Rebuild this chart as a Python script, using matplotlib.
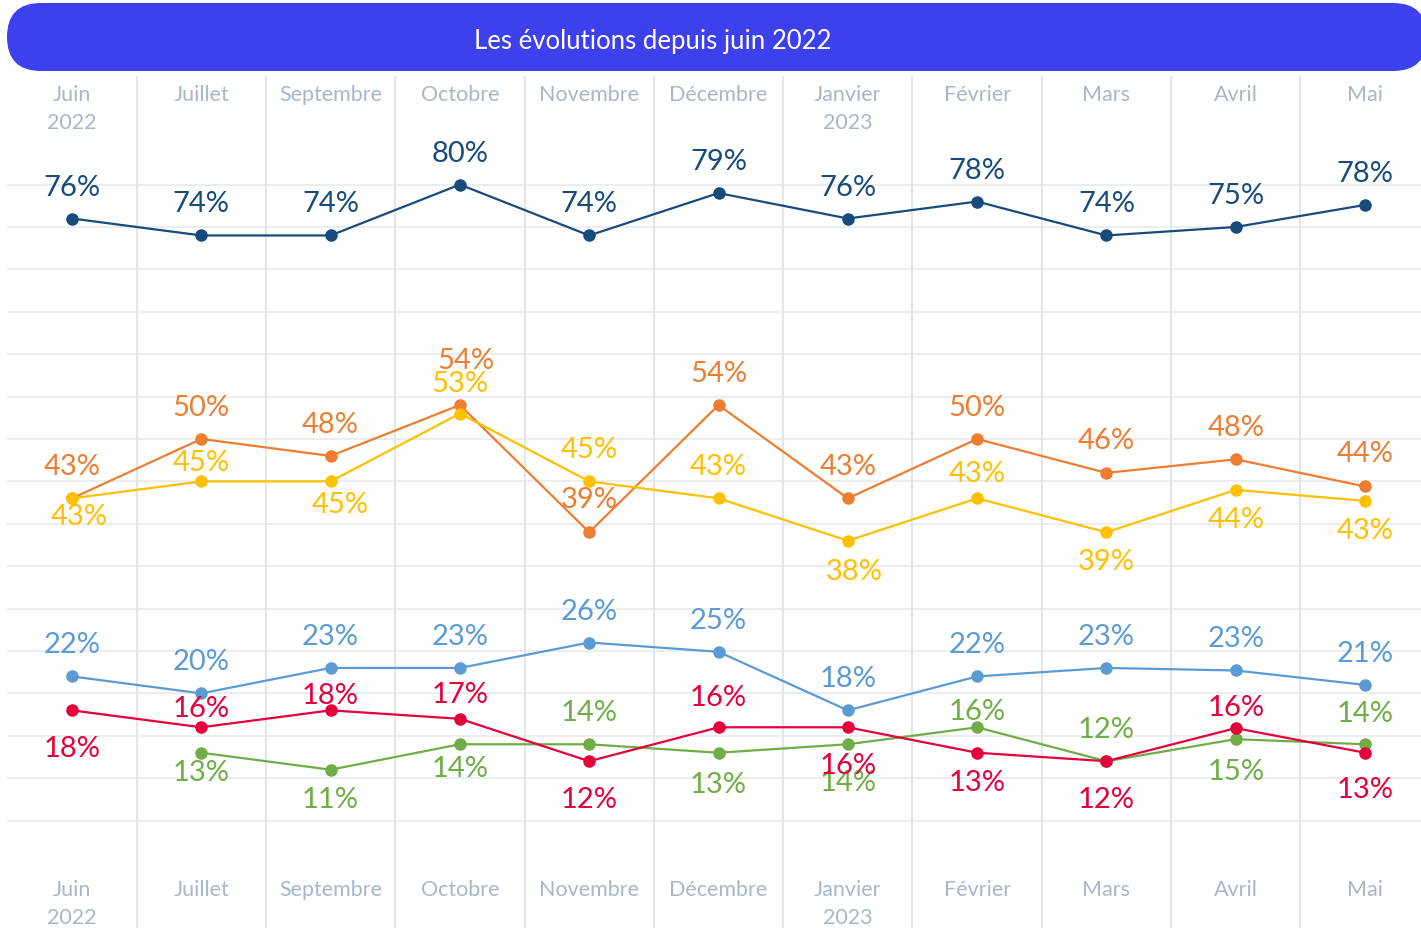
import numpy as np
import matplotlib.pyplot as plt
from matplotlib.patches import FancyBboxPatch
from matplotlib.transforms import blended_transform_factory, IdentityTransform

# ---------------------------------------------------------------
# Data
# ---------------------------------------------------------------
titre = "Les évolutions depuis juin 2022"
mois = ["Juin", "Juillet", "Septembre", "Octobre", "Novembre", "Décembre",
        "Janvier", "Février", "Mars", "Avril", "Mai"]
annees = ["2022", "", "", "", "", "", "2023", "", "", "", ""]

bleu_fonce = [76, 74, 74, 80, 74, 79, 76, 78, 74, 75, 77.6]
orange = [43, 50, 48, 54, 39, 54, 43, 50, 46, 47.6, 44.4]
jaune = [43, 45, 45, 53, 45, 43, 38, 43, 39, 44, 42.7]
bleu_clair = [22, 20, 23, 23, 26, 24.9, 18, 22, 23, 22.7, 21]
rouge = [18, 16, 18, 17, 12, 16, 16, 13, 12, 15.9, 13]
vert = [np.nan, 13, 11, 14, 14, 13, 14, 16, 12, 14.6, 14]

# label placement (pixels, label centre relative to the point, + = down)
off_bleu_fonce = [-33] * 11
off_orange = [-33, -33, -33, -46, -34, -33, -33, -33, -34, -33, -34]
off_jaune = [17, -20, 22, -32, -33, -33, 29, -26, 28, 28, 28]
off_bleu_clair = [-33] * 11
off_rouge = [37, -20, -16, -26, 37, -31, 37, 28, 37, -22, 35]
off_vert = [0, 18, 28, 23, -33, 30, 37, -17, -33, 31, -32]
dx_jaune = [7, 0, 10, 0, 0, 0, 6, 0, 0, 0, 0]
dx_orange = [0, 0, 0, 6, 0, 0, 0, 0, 0, 0, 0]

series = [
    (bleu_fonce, "#174B7B", off_bleu_fonce, None),
    (orange, "#ED7D31", off_orange, dx_orange),
    (jaune, "#FFC000", off_jaune, dx_jaune),
    (bleu_clair, "#5B9BD5", off_bleu_clair, None),
    (vert, "#70AD47", off_vert, None),
    (rouge, "#E4003B", off_rouge, None),
]

# ---------------------------------------------------------------
# Layout
# ---------------------------------------------------------------
plt.rcParams["font.family"] = ["Lato", "DejaVu Sans"]

W, H = 1421, 929
PX_COL = 129.3   # pixels per month column
PX_PCT = 8.48    # pixels per percentage point
AX_TOP = 77      # pixel row where the plotting area starts
Y76 = 219.5      # pixel row of the 76 % level

fig = plt.figure(figsize=(W / 100, H / 100), dpi=100)
ax = fig.add_axes([7 / W, 0, 1414 / W, (H - AX_TOP) / H])
x0 = -65 / PX_COL
ax.set_xlim(x0, x0 + 1414 / PX_COL)
ax.set_ylim(76 - (H - Y76) / PX_PCT, 76 + (Y76 - AX_TOP) / PX_PCT)
ax.axis("off")

x = np.arange(len(mois))

# grid
for v in range(5, 81, 5):
    ax.axhline(v, color="#E8EAEF", lw=1.2, zorder=0)
for b in x[:-1] + 0.5:
    ax.axvline(b, color="#E3E6EB", lw=1.6, zorder=0)

# month headers, top and bottom
trans = blended_transform_factory(ax.transData, fig.transFigure)
for i, (m, a) in enumerate(zip(mois, annees)):
    for base in (101, 896):
        ax.text(i, 1 - base / H, m, transform=trans, ha="center",
                va="baseline", fontsize=15.5, color="#A9B6C9")
        if a:
            ax.text(i, 1 - (base + 28) / H, a, transform=trans, ha="center",
                    va="baseline", fontsize=15.5, color="#A9B6C9")

# lines and labels
for vals, col, offs, dxs in series:
    ax.plot(x, vals, color=col, lw=1.6, marker="o", markersize=8,
            zorder=3)
    for i, v in enumerate(vals):
        if np.isnan(v):
            continue
        dx = dxs[i] if dxs else 0
        ax.annotate(f"{v:.0f}%", (i, v),
                    xytext=(dx * 0.72, -(offs[i] + 9) * 0.72),
                    textcoords="offset points", ha="center", va="baseline",
                    fontsize=21, color=col, zorder=4)

# title banner
banner = FancyBboxPatch((7, H - 72), 1420, 68,
                        boxstyle="round,pad=0,rounding_size=34",
                        transform=IdentityTransform(),
                        facecolor="#3D40ED", edgecolor="none")
fig.add_artist(banner)
fig.text(653 / W, 1 - 49 / H, titre, ha="center", va="baseline",
         color="white", fontsize=18.5)

fig.savefig("out.png", dpi=100)
